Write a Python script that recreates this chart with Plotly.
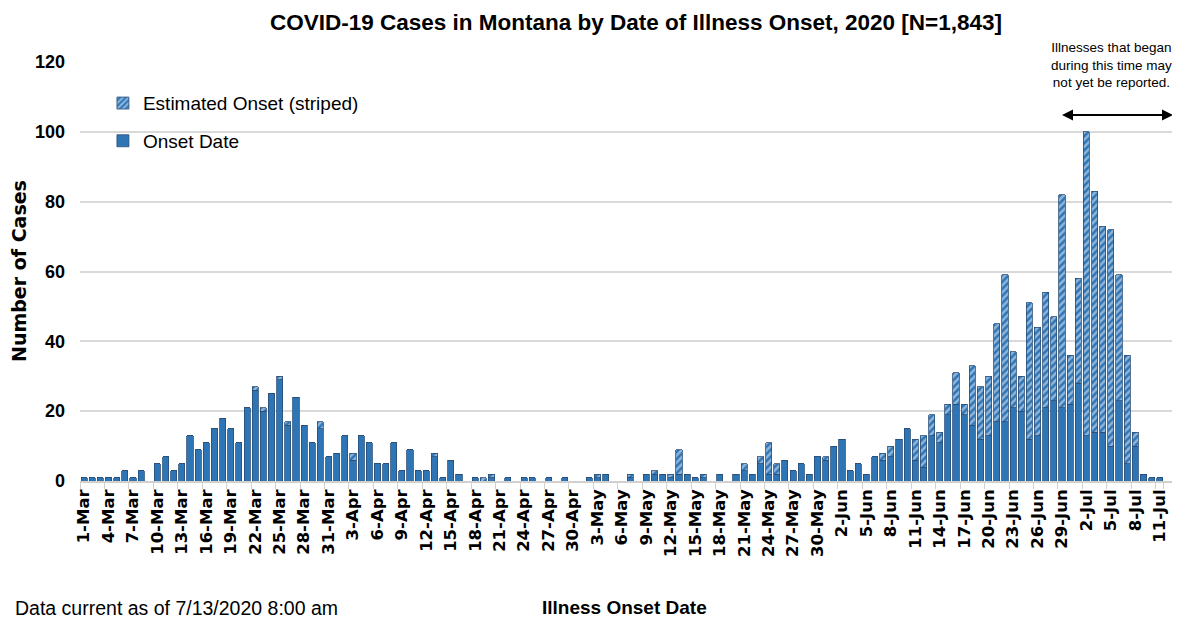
import pandas as pd
import plotly.graph_objects as go

# Categories: illness onset dates 1-Mar .. 11-Jul 2020
dates = pd.date_range("2020-03-01", "2020-07-11", freq="D")
categories = [f"{d.day}-{d.strftime('%b')}" for d in dates]

# Cases with known onset date (solid)
onset_date = [
    1, 1, 1, 1, 1, 3, 1, 3, 0, 5,
    7, 3, 5, 13, 9, 11, 15, 18, 15, 11,
    21, 26, 20, 25, 29, 16, 24, 16, 11, 15,
    7, 8, 13, 6, 13, 11, 5, 5, 11, 3,
    9, 3, 3, 7, 1, 6, 2, 0, 1, 0,
    1, 0, 1, 0, 1, 1, 0, 1, 0, 1,
    0, 0, 1, 1, 2, 0, 0, 1, 0, 2,
    2, 2, 1, 2, 2, 1, 1, 0, 2, 0,
    2, 3, 2, 5, 2, 2, 6, 3, 5, 2,
    7, 6, 10, 12, 3, 5, 2, 7, 6, 7,
    12, 15, 6, 4, 13, 11, 19, 22, 19, 16,
    12, 13, 17, 17, 21, 20, 12, 13, 21, 23,
    21, 22, 28, 13, 14, 14, 10, 23, 5, 10,
    2, 1, 1,
]

# Cases with estimated onset (striped)
estimated_onset = [
    0, 0, 0, 0, 0, 0, 0, 0, 0, 0,
    0, 0, 0, 0, 0, 0, 0, 0, 0, 0,
    0, 1, 1, 0, 1, 1, 0, 0, 0, 2,
    0, 0, 0, 2, 0, 0, 0, 0, 0, 0,
    0, 0, 0, 1, 0, 0, 0, 0, 0, 1,
    1, 0, 0, 0, 0, 0, 0, 0, 0, 0,
    0, 0, 0, 1, 0, 0, 0, 1, 0, 0,
    1, 0, 1, 7, 0, 0, 1, 0, 0, 0,
    0, 2, 0, 2, 9, 3, 0, 0, 0, 0,
    0, 1, 0, 0, 0, 0, 0, 0, 2, 3,
    0, 0, 6, 9, 6, 3, 3, 9, 3, 17,
    15, 17, 28, 42, 16, 10, 39, 31, 33, 24,
    61, 14, 30, 87, 69, 59, 62, 36, 31, 4,
    0, 0, 0,
]

tick_labels = categories[::3]

BLUE = "#2E75B6"
EDGE = "#2B4F77"
ARIAL = "Liberation Sans, Arial, sans-serif"
DEJAVU = "DejaVu Sans, sans-serif"

# page is offset by the browser's default 8px body margin
OFF = 8
W, H = 1180 - OFF, 619 - OFF
PX0, PX1 = 80, 1172      # plot area in page pixels (x)
PY0, PY1 = 62, 481       # plot area in page pixels (y)


def px(x):
    return (x - PX0) / (PX1 - PX0)


def py(y):
    return (PY1 - y) / (PY1 - PY0)


fig = go.Figure()
fig.add_trace(go.Bar(
    x=categories, y=onset_date, name="Onset Date",
    legendgroup="a", legendrank=2,
    marker=dict(color=BLUE, line=dict(color=EDGE, width=0.8)),
))
fig.add_trace(go.Bar(
    x=categories, y=estimated_onset, name="Estimated Onset (striped)",
    legendgroup="b", legendrank=1,
    marker=dict(color=BLUE, line=dict(color=EDGE, width=0.8),
                pattern=dict(shape="/", fgcolor="#F2F6FB", bgcolor=BLUE,
                             size=5, solidity=0.5, fillmode="overlay")),
))

fig.update_layout(
    width=W, height=H,
    margin=dict(l=PX0 - OFF, r=W - (PX1 - OFF), t=PY0 - OFF, b=H - (PY1 - OFF)),
    barmode="stack", bargap=0.25,
    plot_bgcolor="white", paper_bgcolor="white",
    title=dict(text="<b>COVID-19 Cases in Montana by Date of Illness Onset, 2020 [N=1,843]</b>",
               x=(636 - OFF) / W, xanchor="center", y=1 - (22 - OFF) / H, yanchor="middle",
               font=dict(family=ARIAL, size=22.5, color="black")),
    legend=dict(x=0.021, y=0.947, xanchor="left", yanchor="top",
                traceorder="grouped", tracegroupgap=10,
                font=dict(family=ARIAL, size=19, color="black"),
                bgcolor="rgba(0,0,0,0)", itemwidth=30),
    showlegend=True,
)

fig.update_xaxes(
    type="category", range=[-0.5, 133.5],
    tickmode="array", tickvals=tick_labels, ticktext=tick_labels,
    tickangle=-90, tickson="boundaries", ticks="outside", ticklen=6,
    tickcolor="#D0D0D0",
    tickfont=dict(family=DEJAVU, size=16.5, color="black", weight="bold"),
    showline=True, linecolor="#D0D0D0", linewidth=1.5, showgrid=False,
)
fig.update_yaxes(
    range=[0, 120], dtick=20, showgrid=True, gridcolor="#D9D9D9", gridwidth=1.5,
    zeroline=False, ticks="", ticklabelstandoff=14,
    tickfont=dict(family=ARIAL, size=18, color="black", weight="bold"),
)

annotations = [
    dict(text="<b>Number of Cases</b>", xref="paper", yref="paper",
         x=px(19), y=py(271), textangle=-90, showarrow=False,
         xanchor="center", yanchor="middle",
         font=dict(family=DEJAVU, size=19, color="black")),
    dict(text="<b>Illness Onset Date</b>", xref="paper", yref="paper",
         x=px(624), y=py(607), showarrow=False,
         xanchor="center", yanchor="middle",
         font=dict(family=ARIAL, size=19, color="black")),
    dict(text="Data current as of 7/13/2020 8:00 am", xref="paper", yref="paper",
         x=px(13), y=py(608), showarrow=False,
         xanchor="left", yanchor="middle",
         font=dict(family=ARIAL, size=19.5, color="black")),
    dict(text="Illnesses that began<br>during this time may<br>not yet be reported.",
         xref="paper", yref="paper",
         x=px(1111), y=py(65), showarrow=False,
         xanchor="center", yanchor="middle", align="center",
         font=dict(family=ARIAL, size=13.5, color="black")),
    dict(text="", xref="paper", yref="paper",
         x=px(1062), y=py(115), ax=40, ay=0,
         showarrow=True, arrowhead=2, arrowsize=1.1, arrowwidth=2, arrowcolor="black"),
    dict(text="", xref="paper", yref="paper",
         x=px(1173), y=py(115), ax=-40, ay=0,
         showarrow=True, arrowhead=2, arrowsize=1.1, arrowwidth=2, arrowcolor="black"),
]
fig.update_layout(annotations=annotations)
fig.add_shape(type="line", xref="paper", yref="paper",
              x0=px(1066), x1=px(1169), y0=py(115), y1=py(115),
              line=dict(color="black", width=2))

fig.write_html("out.html")
